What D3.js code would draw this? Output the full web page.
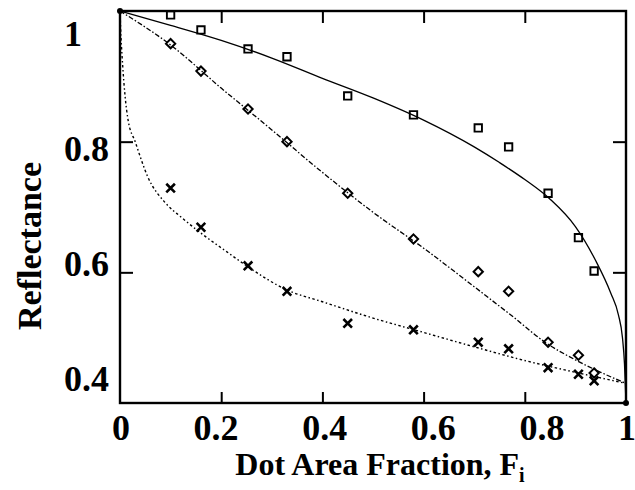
<!DOCTYPE html>
<html>
<head>
    <meta charset="utf-8">
    <style>
        body { margin: 0; background: #fff; }
        svg { font-family: 'Liberation Serif', 'Times New Roman', serif; font-weight: bold; }
    </style>
</head>
<body>
<svg width="635" height="490"></svg>
<script src="https://d3js.org/d3.v7.min.js"></script>
<script>
    // measured points (dot area fraction, reflectance)
    let fraction = [0.10, 0.16, 0.253, 0.33, 0.45, 0.58, 0.708, 0.768, 0.846, 0.906, 0.937];
    let squareR = [0.994, 0.971, 0.942, 0.930, 0.870, 0.841, 0.821, 0.792, 0.721, 0.653, 0.602];
    let diamondR = [0.950, 0.908, 0.850, 0.800, 0.721, 0.651, 0.601, 0.571, 0.493, 0.473, 0.446];
    let crossR = [0.729, 0.669, 0.610, 0.571, 0.522, 0.512, 0.493, 0.483, 0.454, 0.444, 0.434];

    // model curves
    let solidF = [0, 0.1, 0.2, 0.3, 0.4, 0.5, 0.6, 0.7, 0.75, 0.8, 0.85, 0.9, 0.94, 0.97, 0.985, 0.993, 0.997, 1];
    let solidR = [1.0, 0.978, 0.955, 0.928, 0.897, 0.867, 0.833, 0.792, 0.768, 0.742, 0.712, 0.670, 0.618, 0.568, 0.535, 0.50, 0.46, 0.40];
    let dashF = [0, 0.1, 0.2, 0.3, 0.4, 0.5, 0.6, 0.7, 0.78, 0.84, 0.9, 0.95, 1];
    let dashR = [1.0, 0.948, 0.882, 0.818, 0.753, 0.692, 0.637, 0.578, 0.530, 0.493, 0.466, 0.447, 0.43];
    let dotF = [0, 0.002, 0.005, 0.01, 0.016, 0.03, 0.055, 0.09, 0.12, 0.16, 0.21, 0.25, 0.33, 0.4, 0.5, 0.6, 0.7, 0.8, 0.9, 1];
    let dotR = [1.0, 0.96, 0.92, 0.87, 0.833, 0.80, 0.746, 0.706, 0.685, 0.660, 0.632, 0.610, 0.573, 0.555, 0.530, 0.508, 0.486, 0.465, 0.447, 0.43];

    let xTicks = [0, 0.2, 0.4, 0.6, 0.8, 1];
    let yTicks = [0.4, 0.6, 0.8, 1];

    let svg = d3.select('svg');
    let x = d3.scaleLinear().domain([0, 1]).range([120, 626]);
    let y = d3.scaleLinear().domain([0.4, 1]).range([403, 11]);
    // tick labels in the scan sit a little off the ticks
    let xLab = d3.scaleLinear().domain([0.2, 0.8]).range([216, 542]);
    let yLab = d3.scaleLinear().domain([0.4, 1]).range([378, 33]);

    let inner = [0.2, 0.4, 0.6, 0.8];
    let tickStyle = g => {
        g.select('.domain').remove();
        g.selectAll('line').attr('stroke', '#000').attr('stroke-width', 2);
        g.selectAll('text').remove();
    };
    svg.append('g').attr('transform', 'translate(0,403)')
        .call(d3.axisBottom(x).tickValues(inner).tickSize(-11)).call(tickStyle);
    svg.append('g').attr('transform', 'translate(0,11)')
        .call(d3.axisTop(x).tickValues(inner).tickSize(-12)).call(tickStyle);
    svg.append('g').attr('transform', 'translate(120,0)')
        .call(d3.axisLeft(y).tickValues([0.6, 0.8]).tickSize(-13)).call(tickStyle);
    svg.append('g').attr('transform', 'translate(626,0)')
        .call(d3.axisRight(y).tickValues([0.6, 0.8]).tickSize(-13)).call(tickStyle);

    svg.append('rect')
        .attr('x', x(0)).attr('y', y(1))
        .attr('width', x(1) - x(0)).attr('height', y(0.4) - y(1))
        .attr('fill', 'none').attr('stroke', '#000').attr('stroke-width', 2.4);

    let line = d3.line().x(d => x(d[0])).y(d => y(d[1])).curve(d3.curveMonotoneX);
    let curves = [
        { F: solidF, R: solidR, dash: null, w: 1.3 },
        { F: dashF, R: dashR, dash: '5,2,1.5,2', w: 1.3 },
        { F: dotF, R: dotR, dash: '2.5,2.5,1.5,2.5', w: 1.4 }
    ];
    curves.forEach(c => {
        svg.append('path')
            .datum(d3.zip(c.F, c.R))
            .attr('d', line)
            .attr('fill', 'none')
            .attr('stroke', '#000')
            .attr('stroke-width', c.w)
            .attr('stroke-dasharray', c.dash);
    });

    svg.append('circle').attr('cx', x(0)).attr('cy', y(1)).attr('r', 3).attr('fill', '#000');
    svg.append('circle').attr('cx', x(1)).attr('cy', y(0.4)).attr('r', 3).attr('fill', '#000');

    let series = [
        { R: squareR, shape: d3.symbolSquare2, size: 70, w: 1.9 },
        { R: diamondR, shape: d3.symbolDiamond2, size: 55, w: 2 },
        { R: crossR, shape: d3.symbolTimes, size: 50, w: 2.6 }
    ];
    series.forEach(s => {
        svg.append('g').selectAll('path')
            .data(d3.zip(fraction, s.R))
            .join('path')
            .attr('d', d3.symbol(s.shape, s.size))
            .attr('transform', d => `translate(${x(d[0])},${y(d[1])})`)
            .attr('fill', 'none')
            .attr('stroke', '#000')
            .attr('stroke-width', s.w);
    });

    svg.append('g').selectAll('text')
        .data(xTicks)
        .join('text')
        .attr('x', d => (d === 0 || d === 1) ? x(d) + 1 : xLab(d))
        .attr('y', 440)
        .attr('text-anchor', 'middle')
        .attr('font-size', 36)
        .text(d => d3.format('~g')(d));

    svg.append('g').selectAll('text')
        .data(yTicks)
        .join('text')
        .attr('x', 64)
        .attr('y', d => yLab(d))
        .attr('dy', '0.35em')
        .attr('font-size', 36)
        .text(d => d3.format('~g')(d));

    svg.append('text')
        .attr('transform', 'translate(41,246) rotate(-90)')
        .attr('text-anchor', 'middle')
        .attr('font-size', 34)
        .text('Reflectance');

    let xt = svg.append('text')
        .attr('x', 380).attr('y', 475)
        .attr('text-anchor', 'middle')
        .attr('font-size', 32);
    xt.append('tspan').text('Dot Area Fraction, F');
    xt.append('tspan').attr('font-size', 20).attr('dy', 7).text('i');
</script>
</body>
</html>
